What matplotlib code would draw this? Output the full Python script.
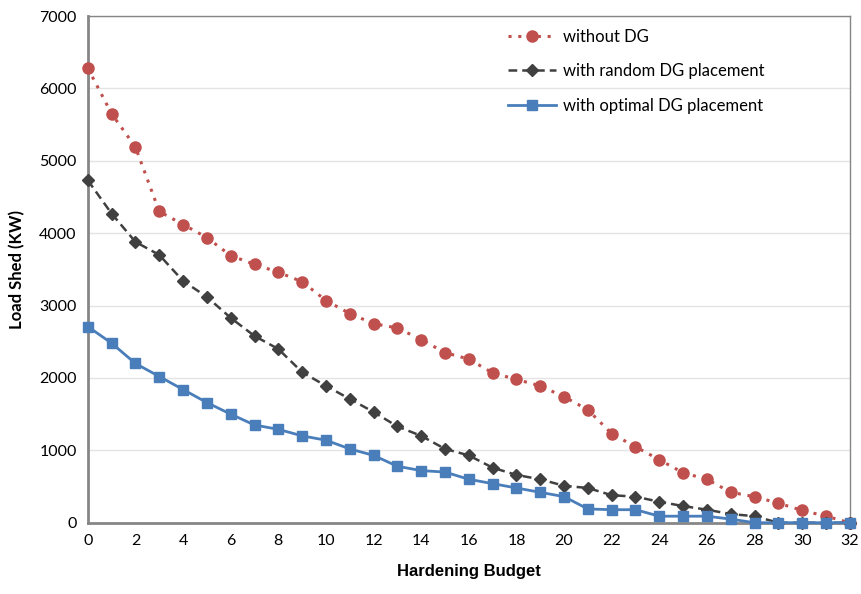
import matplotlib.pyplot as plt

# Presupuesto de refuerzo (eje x)
budget = list(range(0, 33))

# Carga desconectada (kW) para cada escenario
without_dg = [6280, 5650, 5190, 4300, 4120, 3940, 3690, 3570, 3460, 3330,
              3070, 2890, 2750, 2690, 2530, 2350, 2260, 2070, 1980, 1890,
              1740, 1560, 1230, 1050, 870, 690, 600, 420, 360, 270,
              170, 90, 0]
random_dg = [4730, 4270, 3880, 3700, 3340, 3120, 2830, 2580, 2400, 2080,
             1890, 1710, 1530, 1330, 1200, 1020, 930, 760, 660, 600,
             510, 480, 380, 360, 290, 230, 180, 120, 90, 0,
             0, 0, 0]
optimal_dg = [2710, 2480, 2200, 2020, 1840, 1660, 1500, 1350, 1290, 1200,
              1140, 1020, 930, 780, 720, 700, 600, 540, 480, 420,
              360, 190, 180, 180, 90, 90, 90, 50, 0, 0,
              0, 0, 0]

labels = ['without DG', 'with random DG placement', 'with optimal DG placement']
xticks = list(range(0, 33, 2))
yticks = list(range(0, 7001, 1000))

fig = plt.figure(figsize=(8.61, 5.94), dpi=100)
ax = fig.add_axes([0.102, 0.12, 0.885, 0.853])

ax.plot(budget, without_dg, color='#c0504d', linestyle=(0, (1, 2.2)), linewidth=2.2,
        marker='o', markersize=8, label=labels[0], zorder=3, clip_on=False)
ax.plot(budget, random_dg, color='#404040', linestyle=(0, (3.5, 2)), linewidth=1.8,
        marker='D', markersize=6.5, label=labels[1], zorder=3, clip_on=False)
ax.plot(budget, optimal_dg, color='#4a7ebb', linestyle='-', linewidth=2,
        marker='s', markersize=6.5, label=labels[2], zorder=4, clip_on=False)

ax.set_xlim(0, 32)
ax.set_ylim(0, 7000)
ax.set_xticks(xticks)
ax.set_yticks(yticks)
ax.tick_params(axis='both', labelsize=11.5, length=0, pad=8)
for lbl in ax.get_xticklabels() + ax.get_yticklabels():
    lbl.set_family('Lato')

ax.grid(axis='y', color='#e4e4e4', linewidth=1)
ax.set_axisbelow(True)
for side in ['left', 'bottom']:
    ax.spines[side].set_color('#868686')
    ax.spines[side].set_linewidth(2)
for side in ['top', 'right']:
    ax.spines[side].set_color('#868686')
    ax.spines[side].set_linewidth(1)

ax.set_xlabel('Hardening Budget', fontsize=12, fontweight='bold',
              family='Liberation Sans', labelpad=12)
ax.set_ylabel('Load Shed (KW)', fontsize=12, fontweight='bold',
              family='Lato', labelpad=10)

ax.legend(loc='upper right', bbox_to_anchor=(0.91, 1.008), frameon=False,
          prop={'family': 'Lato', 'size': 12}, handlelength=2.9,
          handletextpad=0.4, labelspacing=1.12, borderaxespad=0.6)

fig.savefig('out.png', dpi=100)
